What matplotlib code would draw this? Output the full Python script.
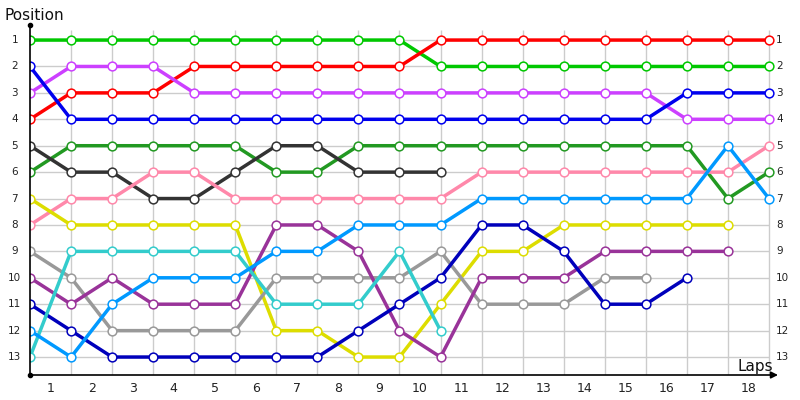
import matplotlib
matplotlib.use('Agg')
import matplotlib.pyplot as plt
import numpy as np

# positions per lap (index 0..18), shorter lists where the driver has dropped out
laps = list(range(19))
lap_labels = [str(i) for i in range(1, 19)]
positions = list(range(1, 14))

green = [1, 1, 1, 1, 1, 1, 1, 1, 1, 1, 2, 2, 2, 2, 2, 2, 2, 2, 2]
red = [4, 3, 3, 3, 2, 2, 2, 2, 2, 2, 1, 1, 1, 1, 1, 1, 1, 1, 1]
violet = [3, 2, 2, 2, 3, 3, 3, 3, 3, 3, 3, 3, 3, 3, 3, 3, 4, 4, 4]
blue = [2, 4, 4, 4, 4, 4, 4, 4, 4, 4, 4, 4, 4, 4, 4, 4, 3, 3, 3]
dark_green = [6, 5, 5, 5, 5, 5, 6, 6, 5, 5, 5, 5, 5, 5, 5, 5, 5, 7, 6]
dark_gray = [5, 6, 6, 7, 7, 6, 5, 5, 6, 6, 6]
pink = [8, 7, 7, 6, 6, 7, 7, 7, 7, 7, 7, 6, 6, 6, 6, 6, 6, 6, 5]
sky = [12, 13, 11, 10, 10, 10, 9, 9, 8, 8, 8, 7, 7, 7, 7, 7, 7, 5, 7]
yellow = [7, 8, 8, 8, 8, 8, 12, 12, 13, 13, 11, 9, 9, 8, 8, 8, 8, 8]
cyan = [13, 9, 9, 9, 9, 9, 11, 11, 11, 9, 12]
gray = [9, 10, 12, 12, 12, 12, 10, 10, 10, 10, 9, 11, 11, 11, 10, 10]
plum = [10, 11, 10, 11, 11, 11, 8, 8, 9, 12, 13, 10, 10, 10, 9, 9, 9, 9]
navy = [11, 12, 13, 13, 13, 13, 13, 13, 12, 11, 10, 8, 8, 9, 11, 11, 10]

series = [
    (green, '#00c800'),
    (red, '#ff0000'),
    (violet, '#cc40ff'),
    (blue, '#0000ee'),
    (dark_green, '#229922'),
    (dark_gray, '#333333'),
    (pink, '#ff88aa'),
    (yellow, '#dddd00'),
    (gray, '#999999'),
    (plum, '#993399'),
    (navy, '#0000bb'),
    (cyan, '#33cccc'),
    (sky, '#0099ff'),
]

fig = plt.figure(figsize=(8, 4), dpi=100)
ax = fig.add_axes([30 / 800, 25 / 400, 748 / 800, 350 / 400])

y_top = 0.43
y_bot = 13.68
ax.set_xlim(0, 18.22)
ax.set_ylim(y_bot, y_top)

# grid
ax.vlines(laps[1:], y_bot, 0.62, color='#cccccc', lw=1, zorder=0)
ax.hlines(positions, 0, 18, color='#cccccc', lw=1, zorder=0)

for vals, col in series:
    ax.plot(laps[:len(vals)], vals, color=col, lw=2.5, marker='o', ms=6.3,
            mfc='white', mec=col, mew=1.1, zorder=3, solid_capstyle='round')

for s in ax.spines.values():
    s.set_visible(False)

# axis lines with arrow and dots
ax.plot([0, 0], [y_bot, y_top], color='black', lw=1.2, clip_on=False, zorder=4)
ax.plot([0], [y_top], marker='o', ms=3, color='black', clip_on=False, zorder=4)
ax.plot([0], [y_bot], marker='o', ms=3, color='black', clip_on=False, zorder=4)
ax.annotate('', xy=(18.22, y_bot), xytext=(0, y_bot),
            arrowprops=dict(arrowstyle='-|>', color='black', lw=1.2,
                            mutation_scale=10, shrinkA=0, shrinkB=0),
            annotation_clip=False)

ax.set_xticks([])
ax.set_yticks([])

for p in positions:
    ax.text(-0.37, p, str(p), ha='center', va='center', fontsize=7.5, color='#222222')
    ax.text(18.17, p, str(p), ha='left', va='center', fontsize=7.5, color='#222222')

for i, lab in enumerate(lap_labels):
    ax.text(i + 0.5, y_bot + 0.5, lab, ha='center', va='center', fontsize=9, color='#222222')

fig.text(5 / 800, 1 - 15 / 400, 'Position', ha='left', va='center', fontsize=11, color='#111111')
fig.text(773 / 800, 1 - 366 / 400, 'Laps', ha='right', va='center', fontsize=11, color='#111111')

fig.savefig('out.png', dpi=100)
